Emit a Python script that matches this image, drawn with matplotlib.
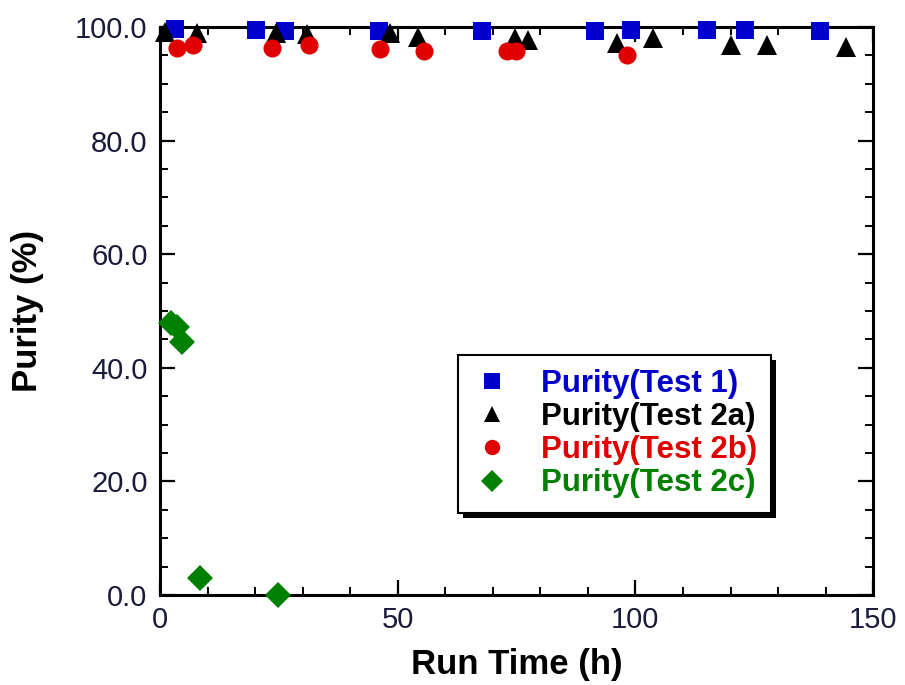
import numpy as np
import matplotlib.pyplot as plt
from matplotlib.patches import Rectangle
from matplotlib.ticker import MultipleLocator, FormatStrFormatter

plt.rcParams['font.family'] = ['Liberation Sans', 'DejaVu Sans']

# run time (h) / purity (%) for each test
t_test1 = [3.2, 20.2, 26.3, 46.1, 67.8, 91.6, 99.1, 115.0, 123.0, 138.8]
p_test1 = [99.6, 99.5, 99.3, 99.3, 99.3, 99.3, 99.5, 99.5, 99.5, 99.3]

t_test2a = [1.0, 7.7, 24.4, 31.0, 48.4, 54.3, 74.7, 77.5, 96.2, 103.8, 120.0, 127.6, 144.2]
p_test2a = [99.1, 98.9, 98.9, 98.8, 98.9, 98.2, 98.1, 97.7, 97.2, 98.1, 96.8, 96.8, 96.5]

t_test2b = [3.6, 7.0, 23.6, 31.4, 46.3, 55.6, 73.0, 74.9, 98.3]
p_test2b = [96.3, 96.8, 96.3, 96.8, 96.1, 95.8, 95.8, 95.8, 95.1]

t_test2c = [2.3, 3.5, 4.6, 8.4, 24.8]
p_test2c = [47.8, 47.2, 44.6, 3.0, 0.0]

series = [
    (t_test1, p_test1, 's', '#0000cc', 13, 'Purity(Test 1)'),
    (t_test2a, p_test2a, '^', '#000000', 14, 'Purity(Test 2a)'),
    (t_test2b, p_test2b, 'o', '#e00000', 13, 'Purity(Test 2b)'),
    (t_test2c, p_test2c, 'D', '#008000', 13, 'Purity(Test 2c)'),
]

fig = plt.figure(figsize=(9.05, 6.85), dpi=100)
ax = fig.add_axes([0.1768, 0.1314, 0.788, 0.8292])

for t, p, m, c, ms, lab in series:
    ax.plot(t, p, linestyle='none', marker=m, color=c, markersize=ms,
            markeredgewidth=0, label=lab, clip_on=False, zorder=5)

ax.set_xlim(0, 150)
ax.set_ylim(0, 100)
ax.xaxis.set_major_locator(MultipleLocator(50))
ax.xaxis.set_minor_locator(MultipleLocator(10))
ax.yaxis.set_major_locator(MultipleLocator(20))
ax.yaxis.set_minor_locator(MultipleLocator(5))
ax.yaxis.set_major_formatter(FormatStrFormatter('%.1f'))

for s in ax.spines.values():
    s.set_linewidth(2.2)
ax.tick_params(which='both', direction='in', top=True, right=True,
               labelsize=21, labelcolor='#1a1a3a')
ax.tick_params(which='major', length=11, width=1.6)
ax.tick_params(which='minor', length=6, width=1.4)
ax.tick_params(axis='x', which='major', pad=8)
ax.tick_params(axis='y', which='major', pad=9)

ax.set_xlabel('Run Time (h)', fontsize=25, fontweight='bold', labelpad=10)
ax.set_ylabel('Purity (%)', fontsize=25, fontweight='bold', labelpad=22)

leg = ax.legend(loc='upper left', bbox_to_anchor=(0.418, 0.4225),
                borderaxespad=0, prop={'weight': 'bold', 'size': 22.5},
                frameon=True, fancybox=False, framealpha=1,
                edgecolor='black', borderpad=0.45, labelspacing=0.1,
                handlelength=1.25, handletextpad=0.95, markerscale=0.85)
leg.get_frame().set_linewidth(1.5)
leg.set_zorder(10)
for txt, (_, _, _, c, _, _) in zip(leg.get_texts(), series):
    txt.set_color(c)

# solid black drop shadow just under the legend box
fig.canvas.draw()
bb = leg.get_frame().get_window_extent().transformed(ax.transAxes.inverted())
dx, dy = 5 / 713, 5 / 568
ax.add_patch(Rectangle((bb.x0 + dx, bb.y0 - dy), bb.width, bb.height,
                       transform=ax.transAxes, facecolor='black',
                       edgecolor='none', zorder=9, clip_on=False))

fig.savefig('out.png', dpi=100)
